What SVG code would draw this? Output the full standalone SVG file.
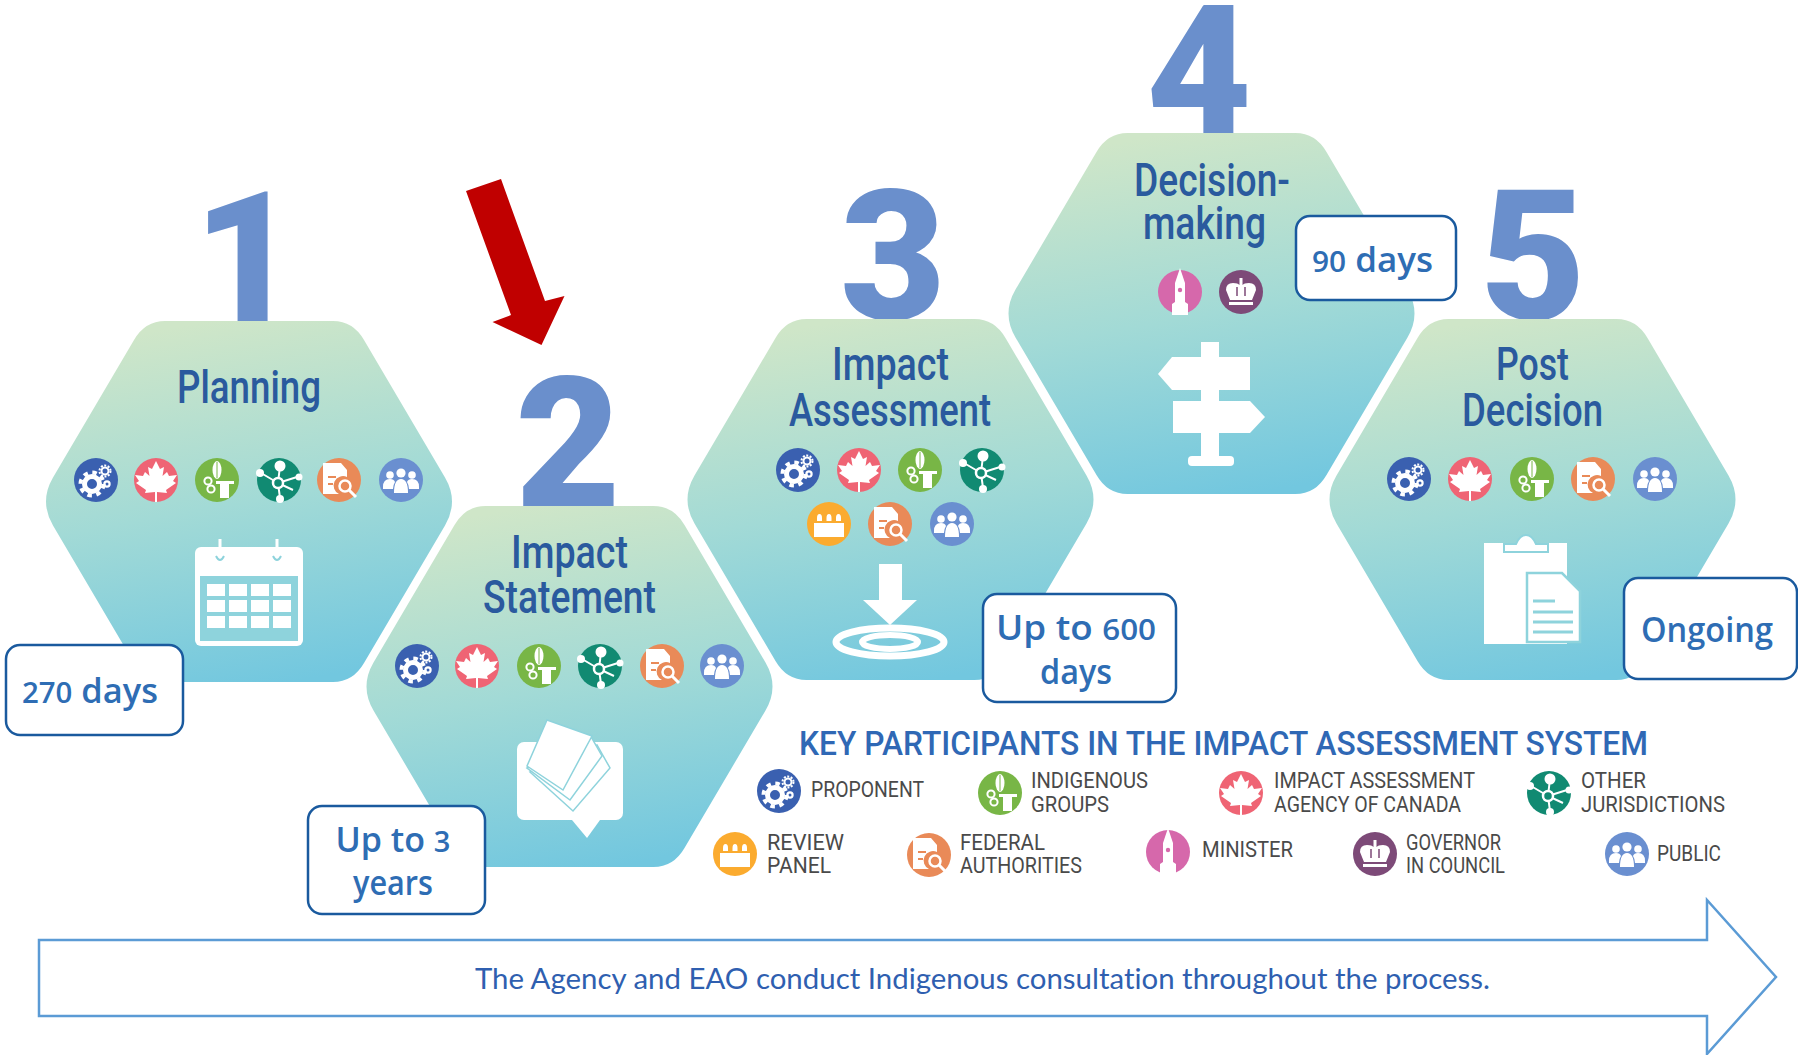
<svg xmlns="http://www.w3.org/2000/svg" width="1798" height="1055" viewBox="0 0 1798 1055">
<style>
.digit{font-family:Roboto,"Liberation Sans",sans-serif;font-weight:900;font-size:182px;fill:#6a8fcc;text-anchor:middle}
.title{font-family:Roboto,"Liberation Sans",sans-serif;font-weight:500;font-size:46px;fill:#2a5a9e}
.hex{fill:url(#hexGrad)}
.box{fill:#fff;stroke:#1a5a9e;stroke-width:2.5}
.dur{font-family:"Open Sans","Liberation Sans",sans-serif;font-weight:600;font-size:34px;fill:#2e6db4}
.num{font-size:29px}
.lg{font-family:Roboto,"Liberation Sans",sans-serif;font-size:22px;fill:#4a4a4a}
.lt{font-family:Roboto,"Liberation Sans",sans-serif;font-weight:500;font-size:34px;fill:#2f68b5}
.w{fill:#fff}
.ws{fill:none;stroke:#fff}
.cut{fill:#8ed3dc}
</style>
<defs>
<linearGradient id="hexGrad" x1="0.4" y1="0" x2="0.6" y2="1">
<stop offset="0" stop-color="#cfe6c8"/><stop offset="0.5" stop-color="#a2dad6"/><stop offset="1" stop-color="#72c7df"/>
</linearGradient>
<path id="hexShape" d="M-84,-180.5 L84,-180.5 Q104,-180.5 115,-161.5 L196,-24 Q210,0 196,24 L115,161.5 Q104,180.5 84,180.5 L-84,180.5 Q-104,180.5 -115,161.5 L-196,24 Q-210,0 -196,-24 L-115,-161.5 Q-104,-180.5 -84,-180.5 Z"/>
<g id="i-gears"><circle r="22" fill="#3a60b0"/><circle cx="-4" cy="4" r="7.5" class="ws" stroke-width="5"/><circle cx="-4" cy="4" r="11.5" class="ws" stroke-width="4" stroke-dasharray="4.5 4.53"/><circle cx="9" cy="-9" r="3.5" class="ws" stroke-width="2"/><circle cx="9" cy="-9" r="5.5" class="ws" stroke-width="2" stroke-dasharray="2 1.5"/><circle cx="11" cy="4" r="2.6" class="ws" stroke-width="2.2"/></g>
<g id="i-caa"><circle r="22" fill="#ef6474"/><path class="w" d="M0,-19 L4,-11 L8,-13 L6.5,-4 L11,-8 L13,-4 L21,-5 L17,1 L20,3 L10,10 L11,13 L1,12 L1,22 L-1,22 L-1,12 L-11,13 L-10,10 L-20,3 L-17,1 L-21,-5 L-13,-4 L-11,-8 L-6.5,-4 L-8,-13 L-4,-11 Z"/></g>
<g id="i-ind"><circle r="22" fill="#78b646"/><ellipse cx="0" cy="-10" rx="4.5" ry="9" class="w"/><path d="M0,-18 V-2" stroke="#78b646" stroke-width="1"/><circle cx="-9" cy="1" r="3.6" class="ws" stroke-width="2"/><circle cx="-6" cy="9" r="3.6" class="ws" stroke-width="2"/><rect x="-1" y="1" width="18" height="3" class="w"/><rect x="3" y="4" width="9" height="14" class="w"/></g>
<g id="i-oth"><circle r="22" fill="#118a72"/><path class="ws" stroke-width="2" d="M-1,3 L1,-14 M-1,3 L-18,-7 M-1,3 L18,-3 M-1,3 L14,10 M-1,3 L1,18"/><circle cx="-1" cy="3" r="5" fill="#118a72" stroke="#fff" stroke-width="2.5"/><circle cx="1" cy="-14" r="5.5" class="w"/><circle cx="-19" cy="-7" r="4" class="w"/><circle cx="20" cy="-3" r="3.5" class="w"/><circle cx="1" cy="19" r="4" class="w"/></g>
<g id="i-fed"><circle r="22" fill="#e98a58"/><path class="w" d="M-16,-17 L2,-17 L8,-10 L8,-3 A9,9 0 0 0 0,14 L-16,14 Z"/><path d="M-11,-3 H-3 M-11,4 H-6" stroke="#e98a58" stroke-width="2"/><circle cx="6" cy="6" r="5.5" class="ws" stroke-width="2.5"/><path d="M10,10 L17,17" class="ws" stroke-width="3"/></g>
<g id="i-pub"><circle r="22" fill="#6a8fd0"/><circle cx="-11" cy="-5" r="3.8" class="w"/><circle cx="11" cy="-5" r="3.8" class="w"/><circle cx="0" cy="-7" r="4.6" class="w"/><path class="w" d="M-18,7 Q-18,-1 -11,-1 Q-7,-1 -6,2 Q-8,5 -8,9 L-18,9 Z M18,7 Q18,-1 11,-1 Q7,-1 6,2 Q8,5 8,9 L18,9 Z M-7,13 Q-7,-1 0,-1 Q7,-1 7,13 Z"/></g>
<g id="i-rev"><circle r="22" fill="#fbab2f"/><rect x="-15" y="-1" width="30" height="14" class="w"/><path class="w" d="M-12,-3 V-6 Q-12,-10 -9.5,-10 Q-7,-10 -7,-6 V-3 Z M-2.5,-3 V-6 Q-2.5,-10 0,-10 Q2.5,-10 2.5,-6 V-3 Z M7,-3 V-6 Q7,-10 9.5,-10 Q12,-10 12,-6 V-3 Z"/></g>
<g id="i-min"><circle r="22" fill="#d668ab"/><path class="w" d="M0,-24 L5,-9 L5,10 L8,12 L8,23 L-8,23 L-8,12 L-5,10 L-5,-9 Z"/><circle cy="-2" r="2.2" fill="#d668ab"/></g>
<g id="i-gov"><circle r="22" fill="#7d4a78"/><path class="w" d="M-11,8 L-15,-2 Q-15,-9 -8,-9 Q-3,-9 -1.5,-7 L-1.5,-14 L1.5,-14 L1.5,-7 Q3,-9 8,-9 Q15,-9 15,-2 L11,8 Z"/><path d="M-4,4 V-5 M4,4 V-5" stroke="#7d4a78" stroke-width="1.5"/><rect x="-12" y="10" width="24" height="3" class="w"/></g>
</defs>
<rect width="1798" height="1055" fill="#fff"/>

<g id="node-1-planning">
<text class="digit" x="246" y="321">1</text>
<use href="#hexShape" class="hex" x="249" y="501.5"/>
<text class="title" x="177" y="403" textLength="144" lengthAdjust="spacingAndGlyphs">Planning</text>
<use href="#i-gears" x="96" y="480"/><use href="#i-caa" x="156" y="480"/><use href="#i-ind" x="217" y="480"/><use href="#i-oth" x="279" y="480"/><use href="#i-fed" x="339" y="480"/><use href="#i-pub" x="401" y="480"/>
<rect class="w" x="195" y="547" width="108" height="99" rx="6"/>
<rect class="cut" x="200" y="576" width="98" height="65"/>
<path class="ws" stroke-width="3" d="M220,539 V549 M277,539 V549"/>
<path d="M216,556 Q220,564 224,556 M273,556 Q277,564 281,556" fill="none" stroke="#8ed3dc" stroke-width="2"/>
<g class="w"><rect x="207" y="584" width="18" height="12"/><rect x="229" y="584" width="18" height="12"/><rect x="251" y="584" width="18" height="12"/><rect x="273" y="584" width="18" height="12"/><rect x="207" y="600" width="18" height="12"/><rect x="229" y="600" width="18" height="12"/><rect x="251" y="600" width="18" height="12"/><rect x="273" y="600" width="18" height="12"/><rect x="207" y="616" width="18" height="12"/><rect x="229" y="616" width="18" height="12"/><rect x="251" y="616" width="18" height="12"/><rect x="273" y="616" width="18" height="12"/></g>
<rect class="box" x="6" y="645" width="177" height="90" rx="14"/>
<text class="dur" x="22" y="703" textLength="136" lengthAdjust="spacingAndGlyphs"><tspan class="num">270</tspan> days</text>
</g>

<g id="node-2-impact-statement">
<text class="digit" x="568" y="506">2</text>
<use href="#hexShape" class="hex" x="569.5" y="686.5"/>
<text class="title" x="511" y="568" textLength="117" lengthAdjust="spacingAndGlyphs">Impact</text>
<text class="title" x="483" y="613" textLength="173" lengthAdjust="spacingAndGlyphs">Statement</text>
<use href="#i-gears" x="417" y="666"/><use href="#i-caa" x="477" y="666"/><use href="#i-ind" x="539" y="666"/><use href="#i-oth" x="600" y="666"/><use href="#i-fed" x="662" y="666"/><use href="#i-pub" x="722" y="666"/>
<rect class="w" x="517" y="742" width="106" height="78" rx="7"/>
<path class="w" d="M572,820 H600 L587,838 Z"/>
<g fill="#fff" stroke="#8ed3dc" stroke-width="1.5"><path d="M530,772 L597,745 L610,768 L573,811 Z"/><path d="M527,768 L590,735 L602,756 L570,800 Z"/><path d="M547,720 L592,736 L563,790 L527,766 Z"/></g>
<rect class="box" x="308" y="806" width="177" height="108" rx="14"/>
<text class="dur" x="393" y="852" text-anchor="middle" textLength="115" lengthAdjust="spacingAndGlyphs">Up to <tspan class="num">3</tspan></text>
<text class="dur" x="393" y="895" text-anchor="middle" textLength="80" lengthAdjust="spacingAndGlyphs">years</text>
</g>

<g id="node-3-impact-assessment">
<text class="digit" x="893" y="319">3</text>
<use href="#hexShape" class="hex" x="890.5" y="499.5"/>
<text class="title" x="832" y="380" textLength="117" lengthAdjust="spacingAndGlyphs">Impact</text>
<text class="title" x="789" y="426" textLength="202" lengthAdjust="spacingAndGlyphs">Assessment</text>
<use href="#i-gears" x="798" y="470"/><use href="#i-caa" x="859" y="470"/><use href="#i-ind" x="920" y="470"/><use href="#i-oth" x="982" y="470"/>
<use href="#i-rev" x="829" y="524"/><use href="#i-fed" x="890" y="524"/><use href="#i-pub" x="952" y="524"/>
<path class="w" d="M879,564 H902 V600 H917 L890,625 L863,600 H879 Z"/>
<ellipse cx="890" cy="642" rx="54" ry="14" class="ws" stroke-width="7"/>
<ellipse cx="890" cy="642" rx="28" ry="7" class="ws" stroke-width="6"/>
<rect class="box" x="983" y="594" width="193" height="108" rx="14"/>
<text class="dur" x="1076" y="640" text-anchor="middle" textLength="160" lengthAdjust="spacingAndGlyphs">Up to <tspan class="num">600</tspan></text>
<text class="dur" x="1076" y="684" text-anchor="middle" textLength="72" lengthAdjust="spacingAndGlyphs">days</text>
</g>

<g id="node-4-decision-making">
<text class="digit" x="1199" y="134">4</text>
<use href="#hexShape" class="hex" x="1211.5" y="313.5"/>
<text class="title" x="1134" y="196" textLength="156" lengthAdjust="spacingAndGlyphs">Decision-</text>
<text class="title" x="1143" y="239" textLength="123" lengthAdjust="spacingAndGlyphs">making</text>
<use href="#i-min" x="1180" y="292"/><use href="#i-gov" x="1241" y="292"/>
<g class="w"><rect x="1201" y="342" width="18" height="120"/><path d="M1172,357 H1250 V390 H1172 L1158,374 Z"/><path d="M1173,401 H1250 L1265,417 L1250,433 H1173 Z"/><rect x="1188" y="456" width="46" height="10" rx="4"/></g>
<rect class="box" x="1296" y="216" width="160" height="84" rx="14"/>
<text class="dur" x="1312" y="272" textLength="121" lengthAdjust="spacingAndGlyphs"><tspan class="num">90</tspan> days</text>
</g>

<g id="node-5-post-decision">
<text class="digit" x="1533" y="319">5</text>
<use href="#hexShape" class="hex" x="1532.5" y="499.5"/>
<text class="title" x="1496" y="380" textLength="73" lengthAdjust="spacingAndGlyphs">Post</text>
<text class="title" x="1462" y="426" textLength="141" lengthAdjust="spacingAndGlyphs">Decision</text>
<use href="#i-gears" x="1409" y="479"/><use href="#i-caa" x="1470" y="479"/><use href="#i-ind" x="1532" y="479"/><use href="#i-fed" x="1593" y="479"/><use href="#i-pub" x="1655" y="479"/>
<rect class="w" x="1484" y="543" width="83" height="101"/>
<path class="w" d="M1504,552 V544 H1516 Q1520,535 1526,535 Q1532,535 1536,544 H1548 V552 Z" stroke="#8ed3dc" stroke-width="2"/>
<path class="w" d="M1527,573 H1562 L1580,591 V642 H1527 Z" stroke="#8ed3dc" stroke-width="2.5"/>
<path d="M1533,601 H1555 M1533,612 H1573 M1533,622 H1573 M1533,632 H1573" fill="none" stroke="#8ed3dc" stroke-width="3"/>
<rect class="box" x="1624" y="578" width="173" height="101" rx="14"/>
<text class="dur" x="1641" y="642" textLength="132" lengthAdjust="spacingAndGlyphs">Ongoing</text>
</g>

<g id="legend">
<text class="lt" x="799" y="755" textLength="849" lengthAdjust="spacingAndGlyphs">KEY PARTICIPANTS IN THE IMPACT ASSESSMENT SYSTEM</text>
<g id="legend-proponent"><use href="#i-gears" x="779" y="791"/><text class="lg" x="811" y="797" textLength="113" lengthAdjust="spacingAndGlyphs">PROPONENT</text></g>
<g id="legend-indigenous"><use href="#i-ind" x="1000" y="793"/><text class="lg" x="1031" y="788" textLength="117" lengthAdjust="spacingAndGlyphs">INDIGENOUS</text><text class="lg" x="1031" y="812" textLength="78" lengthAdjust="spacingAndGlyphs">GROUPS</text></g>
<g id="legend-agency"><use href="#i-caa" x="1241" y="793"/><text class="lg" x="1274" y="788" textLength="201" lengthAdjust="spacingAndGlyphs">IMPACT ASSESSMENT</text><text class="lg" x="1274" y="812" textLength="187" lengthAdjust="spacingAndGlyphs">AGENCY OF CANADA</text></g>
<g id="legend-other"><use href="#i-oth" x="1549" y="793"/><text class="lg" x="1581" y="788" textLength="65" lengthAdjust="spacingAndGlyphs">OTHER</text><text class="lg" x="1581" y="812" textLength="144" lengthAdjust="spacingAndGlyphs">JURISDICTIONS</text></g>
<g id="legend-review"><use href="#i-rev" x="735" y="854"/><text class="lg" x="767" y="850" textLength="77" lengthAdjust="spacingAndGlyphs">REVIEW</text><text class="lg" x="767" y="873" textLength="64" lengthAdjust="spacingAndGlyphs">PANEL</text></g>
<g id="legend-federal"><use href="#i-fed" x="929" y="855"/><text class="lg" x="960" y="850" textLength="85" lengthAdjust="spacingAndGlyphs">FEDERAL</text><text class="lg" x="960" y="873" textLength="122" lengthAdjust="spacingAndGlyphs">AUTHORITIES</text></g>
<g id="legend-minister"><use href="#i-min" x="1168" y="852"/><text class="lg" x="1202" y="857" textLength="91" lengthAdjust="spacingAndGlyphs">MINISTER</text></g>
<g id="legend-governor"><use href="#i-gov" x="1375" y="854"/><text class="lg" x="1406" y="850" textLength="95" lengthAdjust="spacingAndGlyphs">GOVERNOR</text><text class="lg" x="1406" y="873" textLength="99" lengthAdjust="spacingAndGlyphs">IN COUNCIL</text></g>
<g id="legend-public"><use href="#i-pub" x="1627" y="854"/><text class="lg" x="1657" y="861" textLength="64" lengthAdjust="spacingAndGlyphs">PUBLIC</text></g>
</g>

<g id="connectors">
<path id="red-arrow" fill="#c00000" d="M466,191 L501,179 L545,301 L564.5,296 L541.5,345 L492.5,322 L511,315 Z"/>
<path id="process-arrow" fill="#fff" stroke="#5b9bd5" stroke-width="2.5" d="M39,940 H1707 V900 L1776,977 L1707,1054 V1016 H39 Z"/>
</g>
<text x="475" y="989" font-family="Lato,&quot;Open Sans&quot;,sans-serif" font-size="29" fill="#2f5fb0" style="font-variant-ligatures:none" textLength="1015" lengthAdjust="spacingAndGlyphs">The Agency and EAO conduct Indigenous consultation throughout the process.</text>
</svg>
